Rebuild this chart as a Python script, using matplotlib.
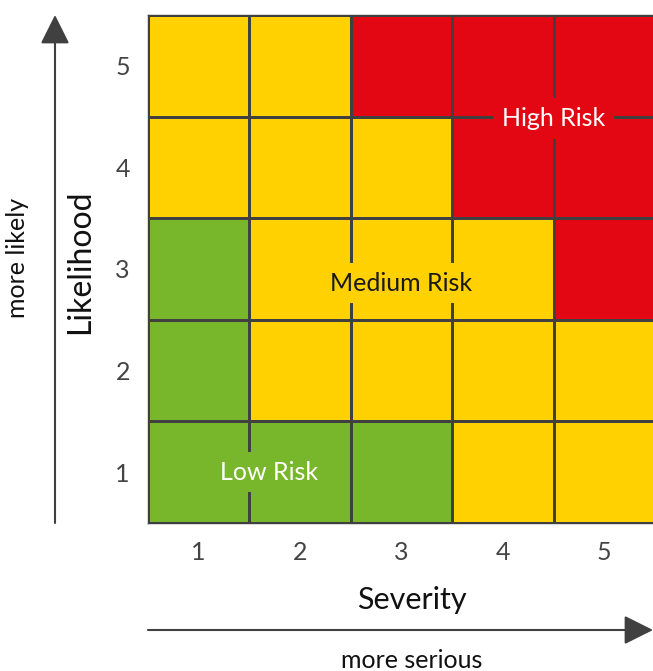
import matplotlib
matplotlib.use("Agg")
import matplotlib.pyplot as plt
from matplotlib.colors import ListedColormap
from matplotlib.patches import FancyArrowPatch
import numpy as np

plt.rcParams['font.family'] = ['Lato', 'DejaVu Sans']

severity = [1, 2, 3, 4, 5]
likelihood = [1, 2, 3, 4, 5]
# risk level per cell: 0 = low, 1 = medium, 2 = high; rows are likelihood 1..5
risk = [
    [0, 0, 0, 1, 1],  # likelihood 1
    [0, 1, 1, 1, 1],  # likelihood 2
    [0, 1, 1, 1, 2],  # likelihood 3
    [1, 1, 1, 2, 2],  # likelihood 4
    [1, 1, 2, 2, 2],  # likelihood 5
]
zone_names = ["Low Risk", "Medium Risk", "High Risk"]
zone_label_pos = [(1.69, 1.0), (3.0, 2.86), (4.5, 4.48)]
zone_colors = ["#78B72B", "#FFD100", "#E30613"]
zone_text_colors = ["white", "#1a1a1a", "white"]

W, H = 653, 671
fig = plt.figure(figsize=(W / 100, H / 100), dpi=100)
ax_l, ax_r, ax_t, ax_b = 148, 655, 15, 523
ax = fig.add_axes([ax_l / W, 1 - ax_b / H, (ax_r - ax_l) / W, (ax_b - ax_t) / H])

edges_x = np.arange(len(severity) + 1) + 0.5
edges_y = np.arange(len(likelihood) + 1) + 0.5
ax.pcolormesh(edges_x, edges_y, np.array(risk), cmap=ListedColormap(zone_colors),
              vmin=-0.5, vmax=2.5, edgecolors="#404040", linewidth=1.0)
ax.set_xlim(edges_x[0], edges_x[-1])
ax.set_ylim(edges_y[0], edges_y[-1])

for spine in ax.spines.values():
    spine.set_color("#404040")
    spine.set_linewidth(1.0)

ax.set_xticks(severity)
ax.set_yticks(likelihood)
ax.set_xticklabels([str(s) for s in severity])
ax.set_yticklabels([str(l) for l in likelihood])
ax.tick_params(length=0, labelsize=18, colors="#444444", pad=13)
ax.tick_params(axis='y', pad=13)

for name, (x, y), c, tc in zip(zone_names, zone_label_pos, zone_colors, zone_text_colors):
    ax.text(x, y, name, ha="center", va="center", fontsize=18, color=tc,
            bbox=dict(boxstyle="square,pad=0.35", fc=c, ec="none"))

# axis arrows
arrow_kw = dict(arrowstyle="-|>,head_length=0.9,head_width=0.45", color="#404040", lw=1.5,
                shrinkA=0, shrinkB=0)
fig_px = lambda x, y: (x / W, 1 - y / H)
fig.add_artist(FancyArrowPatch(fig_px(55, 523), fig_px(55, 15),
               transform=fig.transFigure, mutation_scale=20, **arrow_kw))
fig.add_artist(FancyArrowPatch(fig_px(148, 630), fig_px(653, 630),
               transform=fig.transFigure, mutation_scale=20, **arrow_kw))

fig.text(*fig_px(18, 258), "more likely", rotation=90, ha="center", va="center",
         fontsize=18, color="#111111")
fig.text(*fig_px(80, 262), "Likelihood", rotation=90, ha="center", va="center",
         fontsize=23, color="#111111")
fig.text(*fig_px(412, 600), "Severity", ha="center", va="center",
         fontsize=22, color="#111111")
fig.text(*fig_px(412, 660), "more serious", ha="center", va="center",
         fontsize=18, color="#111111")

fig.savefig("out.png", dpi=100)
